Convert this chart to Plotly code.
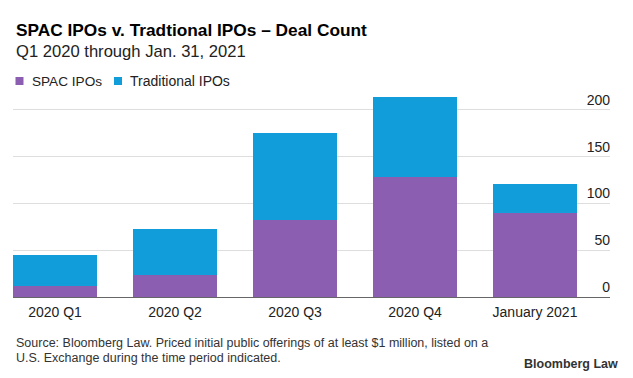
import plotly.graph_objects as go

categories = ["2020 Q1", "2020 Q2", "2020 Q3", "2020 Q4", "January 2021"]
spac_ipos = [12, 23, 82, 128, 90]
traditional_ipos = [33, 50, 93, 86, 31]
y_ticks = [0, 50, 100, 150, 200]

PURPLE = "#8B5EB2"
BLUE = "#109DD9"
FONT = "Liberation Sans, Arial, Helvetica, sans-serif"

W, H = 633, 378
L, R, T, B = 13, 23, 91, 81
PW, PH = W - L - R, H - T - B


def px(x):
    return (x - L) / PW


def py(y):
    return (H - B - y) / PH


fig = go.Figure()
fig.add_trace(go.Bar(x=categories, y=spac_ipos, name="SPAC IPOs",
                     marker=dict(color=PURPLE, line=dict(width=0))))
fig.add_trace(go.Bar(x=categories, y=traditional_ipos, name="Traditional IPOs",
                     marker=dict(color=BLUE, line=dict(width=0))))

annotations = [
    dict(text="<b>SPAC IPOs v. Tradtional IPOs – Deal Count</b>", x=px(14), y=py(30),
         font=dict(size=17.3, color="#000")),
    dict(text="Q1 2020 through Jan. 31, 2021", x=px(14), y=py(51),
         font=dict(size=16.6, color="#222")),
    dict(text="SPAC IPOs", x=px(30), y=py(81), font=dict(size=13.6, color="#222")),
    dict(text="Traditional IPOs", x=px(128), y=py(81), font=dict(size=14, color="#222")),
    dict(text="Source: Bloomberg Law. Priced initial public offerings of at least $1 million, listed on a",
         x=px(14), y=py(343), font=dict(size=12.5, color="#333")),
    dict(text="U.S. Exchange during the time period indicated.",
         x=px(14), y=py(358), font=dict(size=12.5, color="#333")),
]
for a in annotations:
    a.update(xref="paper", yref="paper", xanchor="left", yanchor="middle",
             showarrow=False)
annotations.append(dict(text="<b>Bloomberg Law</b>", x=px(620), y=py(364), xref="paper",
                        yref="paper", xanchor="right", yanchor="middle", showarrow=False,
                        font=dict(size=12.5, color="#333")))

shapes = [
    dict(type="rect", xref="paper", yref="paper", x0=px(15.5), x1=px(23.5), y0=py(85), y1=py(77),
         fillcolor=PURPLE, line=dict(width=0)),
    dict(type="rect", xref="paper", yref="paper", x0=px(114), x1=px(122), y0=py(85), y1=py(77),
         fillcolor=BLUE, line=dict(width=0)),
]

fig.update_layout(
    width=W, height=H,
    margin=dict(l=L, r=R, t=T, b=B, pad=0),
    barmode="stack", bargap=0.3,
    showlegend=False,
    plot_bgcolor="white", paper_bgcolor="white",
    font=dict(family=FONT, size=14, color="#222"),
    annotations=annotations, shapes=shapes,
    xaxis=dict(range=[-0.35, 4.625], showline=True, linecolor="#666", linewidth=1,
               ticks="", showgrid=False, tickfont=dict(size=14, color="#222"),
               ticklabelstandoff=2),
    yaxis=dict(range=[0, 220], side="right", tickvals=y_ticks, ticklabelposition="inside top",
               showgrid=True, gridcolor="#dedede", gridwidth=1, zeroline=False, ticks="",
               tickfont=dict(size=14, color="#222"), ticklabelstandoff=-3),
)

fig.write_html("out.html", config={"displayModeBar": False},
               post_script="document.body.style.margin='0';document.body.style.padding='0';")
